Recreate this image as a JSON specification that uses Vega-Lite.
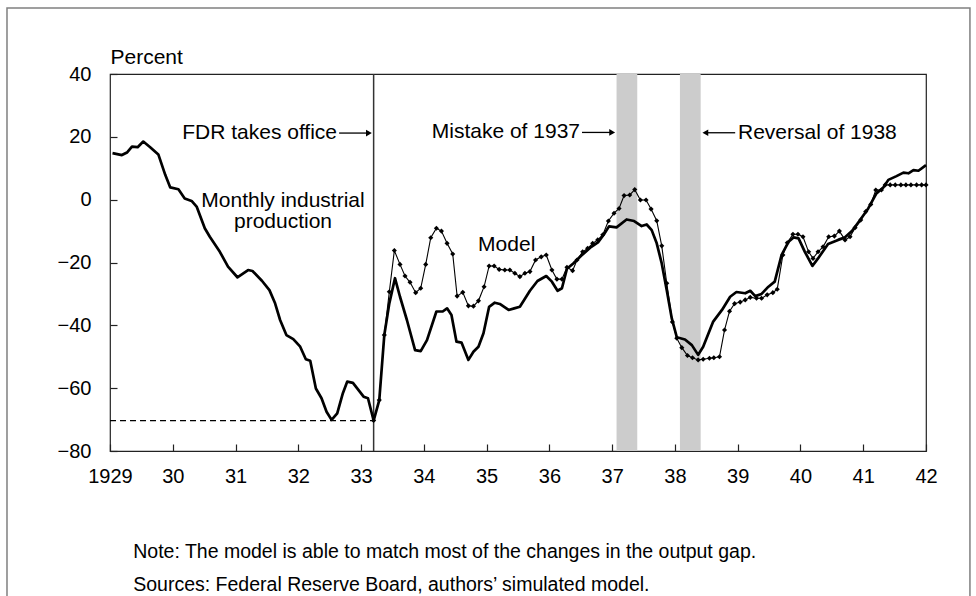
{
  "$schema": "https://vega.github.io/schema/vega-lite/v6.json",
  "width": 816,
  "height": 377,
  "autosize": {"type": "none"},
  "padding": {"left": 110, "top": 74, "right": 50, "bottom": 145},
  "background": "white",
  "config": {
    "view": {"stroke": "#222", "strokeWidth": 1.2},
    "font": "Liberation Sans",
    "axis": {"domain": false, "grid": false, "tickSize": -7, "tickColor": "#222", "tickWidth": 1.2, "labelFont": "Liberation Sans", "labelFontSize": 20, "labelColor": "#000"}
  },
  "datasets": {
    "ip": [
      {"t":1929.04,"v":14.8},{"t":1929.19,"v":14.2},{"t":1929.27,"v":15.0},{"t":1929.35,"v":16.9},{"t":1929.44,"v":16.7},{"t":1929.53,"v":18.5},{"t":1929.64,"v":16.7},{"t":1929.77,"v":14.4},{"t":1929.88,"v":7.9},{"t":1929.96,"v":3.9},
      {"t":1930.09,"v":3.3},{"t":1930.19,"v":0.4},{"t":1930.30,"v":-0.4},{"t":1930.38,"v":-2.2},{"t":1930.51,"v":-9.1},{"t":1930.59,"v":-11.8},{"t":1930.75,"v":-16.6},{"t":1930.88,"v":-21.3},
      {"t":1931.03,"v":-24.7},{"t":1931.20,"v":-22.4},{"t":1931.27,"v":-22.7},{"t":1931.42,"v":-25.8},{"t":1931.54,"v":-28.8},{"t":1931.63,"v":-33.0},{"t":1931.71,"v":-38.3},{"t":1931.81,"v":-43.1},{"t":1931.92,"v":-44.4},
      {"t":1932.03,"v":-46.8},{"t":1932.12,"v":-50.8},{"t":1932.19,"v":-51.3},{"t":1932.28,"v":-60.1},{"t":1932.37,"v":-63.2},{"t":1932.45,"v":-67.5},{"t":1932.53,"v":-70.1},{"t":1932.62,"v":-68.0},{"t":1932.71,"v":-61.6},{"t":1932.78,"v":-57.9},{"t":1932.87,"v":-58.3},{"t":1932.96,"v":-60.6},
      {"t":1933.04,"v":-62.7},{"t":1933.11,"v":-63.2},{"t":1933.20,"v":-70.3},{"t":1933.29,"v":-63.8},{"t":1933.37,"v":-43.1},{"t":1933.45,"v":-33.0},{"t":1933.54,"v":-25.0},{"t":1933.62,"v":-30.9},{"t":1933.73,"v":-38.3},{"t":1933.86,"v":-47.9},{"t":1933.95,"v":-48.2},
      {"t":1934.05,"v":-44.7},{"t":1934.20,"v":-35.6},{"t":1934.30,"v":-35.6},{"t":1934.37,"v":-34.6},{"t":1934.44,"v":-36.7},{"t":1934.52,"v":-45.2},{"t":1934.60,"v":-45.5},{"t":1934.71,"v":-51.0},{"t":1934.79,"v":-48.4},{"t":1934.87,"v":-46.8},{"t":1934.95,"v":-42.5},
      {"t":1935.04,"v":-34.1},{"t":1935.13,"v":-32.8},{"t":1935.21,"v":-33.2},{"t":1935.35,"v":-35.1},{"t":1935.44,"v":-34.6},{"t":1935.53,"v":-34.1},{"t":1935.69,"v":-29.0},{"t":1935.81,"v":-25.9},{"t":1935.95,"v":-24.3},
      {"t":1936.04,"v":-26.1},{"t":1936.13,"v":-29.0},{"t":1936.20,"v":-28.2},{"t":1936.28,"v":-22.0},{"t":1936.38,"v":-20.3},{"t":1936.51,"v":-17.8},{"t":1936.65,"v":-15.3},{"t":1936.78,"v":-13.5},{"t":1936.87,"v":-11.0},{"t":1936.95,"v":-8.5},
      {"t":1937.07,"v":-8.8},{"t":1937.23,"v":-6.3},{"t":1937.35,"v":-6.8},{"t":1937.47,"v":-8.4},{"t":1937.55,"v":-7.9},{"t":1937.63,"v":-9.7},{"t":1937.71,"v":-13.9},{"t":1937.79,"v":-20.3},{"t":1937.87,"v":-28.8},{"t":1937.95,"v":-37.8},
      {"t":1938.03,"v":-43.8},{"t":1938.16,"v":-44.5},{"t":1938.27,"v":-46.3},{"t":1938.37,"v":-49.4},{"t":1938.45,"v":-46.8},{"t":1938.61,"v":-38.8},{"t":1938.75,"v":-35.1},{"t":1938.88,"v":-30.9},{"t":1938.98,"v":-29.4},
      {"t":1939.12,"v":-29.8},{"t":1939.20,"v":-29.0},{"t":1939.28,"v":-30.7},{"t":1939.38,"v":-30.0},{"t":1939.49,"v":-27.7},{"t":1939.59,"v":-26.1},{"t":1939.70,"v":-17.6},{"t":1939.81,"v":-13.4},{"t":1939.89,"v":-12.0},{"t":1939.97,"v":-12.3},
      {"t":1940.07,"v":-16.6},{"t":1940.19,"v":-21.1},{"t":1940.28,"v":-18.7},{"t":1940.44,"v":-14.1},{"t":1940.60,"v":-12.8},{"t":1940.71,"v":-12.0},{"t":1940.82,"v":-10.0},{"t":1940.95,"v":-6.5},
      {"t":1941.08,"v":-2.8},{"t":1941.21,"v":2.0},{"t":1941.32,"v":3.9},{"t":1941.40,"v":6.3},{"t":1941.53,"v":7.5},{"t":1941.64,"v":8.6},{"t":1941.72,"v":8.4},{"t":1941.80,"v":9.4},{"t":1941.88,"v":9.2},{"t":1942.00,"v":11.0}
    ],
    "model": [
      {"t":1933.20,"v":-70.3},{"t":1933.29,"v":-63.8},{"t":1933.37,"v":-43.1},{"t":1933.45,"v":-29.3},{"t":1933.53,"v":-16.2},{"t":1933.62,"v":-20.6},{"t":1933.70,"v":-24.3},{"t":1933.78,"v":-26.3},{"t":1933.87,"v":-29.6},{"t":1933.95,"v":-28.2},
      {"t":1934.03,"v":-20.6},{"t":1934.11,"v":-12.1},{"t":1934.20,"v":-9.1},{"t":1934.28,"v":-10.0},{"t":1934.37,"v":-13.9},{"t":1934.46,"v":-17.3},{"t":1934.53,"v":-30.7},{"t":1934.62,"v":-29.5},{"t":1934.71,"v":-33.8},{"t":1934.79,"v":-33.9},{"t":1934.87,"v":-32.2},{"t":1934.96,"v":-27.7},
      {"t":1935.04,"v":-21.1},{"t":1935.12,"v":-21.1},{"t":1935.20,"v":-22.2},{"t":1935.29,"v":-22.4},{"t":1935.37,"v":-22.4},{"t":1935.45,"v":-23.4},{"t":1935.53,"v":-24.5},{"t":1935.61,"v":-23.4},{"t":1935.69,"v":-22.9},{"t":1935.78,"v":-19.2},{"t":1935.87,"v":-18.2},{"t":1935.95,"v":-17.6},
      {"t":1936.04,"v":-22.4},{"t":1936.12,"v":-25.3},{"t":1936.20,"v":-25.3},{"t":1936.28,"v":-21.5},{"t":1936.37,"v":-22.6},{"t":1936.44,"v":-19.2},{"t":1936.53,"v":-16.6},{"t":1936.61,"v":-15.5},{"t":1936.69,"v":-13.9},{"t":1936.77,"v":-12.8},{"t":1936.85,"v":-11.2},{"t":1936.94,"v":-6.8},
      {"t":1937.03,"v":-4.3},{"t":1937.11,"v":-2.8},{"t":1937.19,"v":1.3},{"t":1937.28,"v":1.5},{"t":1937.36,"v":3.2},{"t":1937.45,"v":-0.1},{"t":1937.54,"v":-0.1},{"t":1937.62,"v":-3.0},{"t":1937.71,"v":-6.7},{"t":1937.79,"v":-14.7},{"t":1937.87,"v":-26.6},{"t":1937.96,"v":-38.9},
      {"t":1938.03,"v":-44.1},{"t":1938.11,"v":-47.1},{"t":1938.20,"v":-49.6},{"t":1938.28,"v":-50.3},{"t":1938.37,"v":-51.0},{"t":1938.45,"v":-50.8},{"t":1938.55,"v":-50.5},{"t":1938.62,"v":-50.3},{"t":1938.71,"v":-50.0},{"t":1938.79,"v":-41.5},{"t":1938.87,"v":-35.5},{"t":1938.95,"v":-33.1},
      {"t":1939.04,"v":-32.6},{"t":1939.12,"v":-31.9},{"t":1939.20,"v":-31.1},{"t":1939.30,"v":-31.4},{"t":1939.38,"v":-31.4},{"t":1939.47,"v":-30.3},{"t":1939.56,"v":-29.6},{"t":1939.63,"v":-28.5},{"t":1939.72,"v":-17.6},{"t":1939.79,"v":-13.7},{"t":1939.88,"v":-11.0},{"t":1939.96,"v":-11.0},
      {"t":1940.04,"v":-11.8},{"t":1940.13,"v":-16.6},{"t":1940.20,"v":-18.7},{"t":1940.28,"v":-16.6},{"t":1940.36,"v":-15.0},{"t":1940.45,"v":-11.8},{"t":1940.54,"v":-11.6},{"t":1940.62,"v":-10.0},{"t":1940.71,"v":-12.8},{"t":1940.79,"v":-11.8},{"t":1940.87,"v":-8.9},{"t":1940.96,"v":-6.5},
      {"t":1941.04,"v":-3.8},{"t":1941.12,"v":-1.5},{"t":1941.20,"v":3.1},{"t":1941.29,"v":3.1},{"t":1941.35,"v":4.7},{"t":1941.43,"v":4.7},{"t":1941.51,"v":4.7},{"t":1941.60,"v":4.7},{"t":1941.68,"v":4.7},{"t":1941.76,"v":4.7},{"t":1941.85,"v":4.7},{"t":1941.93,"v":4.7},{"t":1942.00,"v":4.7}
    ],
    "bands": [{"t": 1937.07, "t2": 1937.40}, {"t": 1938.08, "t2": 1938.41}],
    "textRight": [
      {"t": 1932.617, "v": 21.2, "label": "FDR takes office"},
      {"t": 1936.488, "v": 21.4, "label": "Mistake of 1937"}
    ],
    "textLeft": [
      {"t": 1939.005, "v": 21.3, "label": "Reversal of 1938"}
    ],
    "textCenter": [
      {"t": 1931.756, "v": -0.5, "label": "Monthly industrial"},
      {"t": 1931.756, "v": -7.2, "label": "production"},
      {"t": 1935.32, "v": -14.4, "label": "Model"}
    ],
    "notes": [
      {"t": 1929.37, "v": -112.1, "label": "Note: The model is able to match most of the changes in the output gap."},
      {"t": 1929.37, "v": -122.65, "label": "Sources: Federal Reserve Board, authors\u2019 simulated model."}
    ],
    "arrowLines": [
      {"t": 1932.65, "t2": 1933.10, "v": 21.2},
      {"t": 1936.52, "t2": 1936.98, "v": 21.4},
      {"t": 1938.50, "t2": 1938.96, "v": 21.3}
    ],
    "arrowRight": [
      {"t": 1933.125, "v": 21.2},
      {"t": 1937.0, "v": 21.4}
    ],
    "arrowLeft": [
      {"t": 1938.485, "v": 21.3}
    ],
    "trough": [{"t": 1929, "t2": 1933.2, "v": -70.3}],
    "fdr": [{"t": 1933.2, "v": -80, "v2": 40}],
    "frame": [{"t": 1927.359, "t2": 1942.70, "v": 61.0, "v2": -127.4}]
  },
  "layer": [
    {
      "data": {"name": "bands"},
      "mark": {"type": "rect", "color": "#cccccc"},
      "encoding": {
        "x": {"field": "t", "type": "quantitative", "scale": {"domain": [1929, 1942], "nice": false, "zero": false},
          "axis": {"title": null, "values": [1929,1930,1931,1932,1933,1934,1935,1936,1937,1938,1939,1940,1941,1942], "labelExpr": "datum.value == 1929 ? '1929' : substring(toString(datum.value), 2)", "labelPadding": 22, "labelFlush": false, "labelOverlap": false}},
        "x2": {"field": "t2"},
        "y": {"value": 0}, "y2": {"value": 377}
      }
    },
    {
      "data": {"name": "trough"},
      "mark": {"type": "rule", "strokeDash": [6, 4], "strokeWidth": 1.2, "color": "#000"},
      "encoding": {
        "x": {"field": "t", "type": "quantitative"}, "x2": {"field": "t2"},
        "y": {"field": "v", "type": "quantitative", "scale": {"domain": [-80, 40], "nice": false, "zero": false},
          "axis": {"title": "Percent", "values": [-80,-60,-40,-20,0,20,40], "labelPadding": 26, "titleAngle": 0, "titleAlign": "left", "titleBaseline": "alphabetic", "titleX": 0, "titleY": -11, "titleFontSize": 21, "titleFont": "Liberation Sans", "titleFontWeight": "normal", "titleColor": "#000"}}
      }
    },
    {
      "data": {"name": "fdr"},
      "mark": {"type": "rule", "strokeWidth": 1.5, "color": "#333"},
      "encoding": {"x": {"field": "t", "type": "quantitative"}, "y": {"field": "v", "type": "quantitative"}, "y2": {"field": "v2"}}
    },
    {
      "data": {"name": "model"},
      "mark": {"type": "line", "color": "#000", "strokeWidth": 1.1, "point": {"shape": "diamond", "size": 26, "filled": true, "color": "#000"}},
      "encoding": {"x": {"field": "t", "type": "quantitative"}, "y": {"field": "v", "type": "quantitative"}}
    },
    {
      "data": {"name": "ip"},
      "mark": {"type": "line", "color": "#000", "strokeWidth": 2.7, "strokeJoin": "round"},
      "encoding": {"x": {"field": "t", "type": "quantitative"}, "y": {"field": "v", "type": "quantitative"}}
    },
    {
      "data": {"name": "textRight"},
      "mark": {"type": "text", "align": "right", "baseline": "middle", "fontSize": 21, "font": "Liberation Sans", "color": "#000"},
      "encoding": {"x": {"field": "t", "type": "quantitative"}, "y": {"field": "v", "type": "quantitative"}, "text": {"field": "label"}}
    },
    {
      "data": {"name": "textLeft"},
      "mark": {"type": "text", "align": "left", "baseline": "middle", "fontSize": 21, "font": "Liberation Sans", "color": "#000"},
      "encoding": {"x": {"field": "t", "type": "quantitative"}, "y": {"field": "v", "type": "quantitative"}, "text": {"field": "label"}}
    },
    {
      "data": {"name": "textCenter"},
      "mark": {"type": "text", "align": "center", "baseline": "middle", "fontSize": 21, "font": "Liberation Sans", "color": "#000"},
      "encoding": {"x": {"field": "t", "type": "quantitative"}, "y": {"field": "v", "type": "quantitative"}, "text": {"field": "label"}}
    },
    {
      "data": {"name": "notes"},
      "mark": {"type": "text", "align": "left", "baseline": "middle", "fontSize": 19.5, "font": "Liberation Sans", "color": "#000", "clip": false},
      "encoding": {"x": {"field": "t", "type": "quantitative"}, "y": {"field": "v", "type": "quantitative"}, "text": {"field": "label"}}
    },
    {
      "data": {"name": "arrowLines"},
      "mark": {"type": "rule", "color": "#000", "strokeWidth": 1.3},
      "encoding": {"x": {"field": "t", "type": "quantitative"}, "x2": {"field": "t2"}, "y": {"field": "v", "type": "quantitative"}}
    },
    {
      "data": {"name": "arrowRight"},
      "mark": {"type": "point", "shape": "triangle-right", "size": 45, "filled": true, "color": "#000", "opacity": 1},
      "encoding": {"x": {"field": "t", "type": "quantitative"}, "y": {"field": "v", "type": "quantitative"}}
    },
    {
      "data": {"name": "arrowLeft"},
      "mark": {"type": "point", "shape": "triangle-left", "size": 45, "filled": true, "color": "#000", "opacity": 1},
      "encoding": {"x": {"field": "t", "type": "quantitative"}, "y": {"field": "v", "type": "quantitative"}}
    },
    {
      "data": {"name": "frame"},
      "mark": {"type": "rect", "filled": false, "stroke": "#808080", "strokeWidth": 1.5, "clip": false},
      "encoding": {"x": {"field": "t", "type": "quantitative"}, "x2": {"field": "t2"}, "y": {"field": "v", "type": "quantitative"}, "y2": {"field": "v2"}}
    }
  ]
}
